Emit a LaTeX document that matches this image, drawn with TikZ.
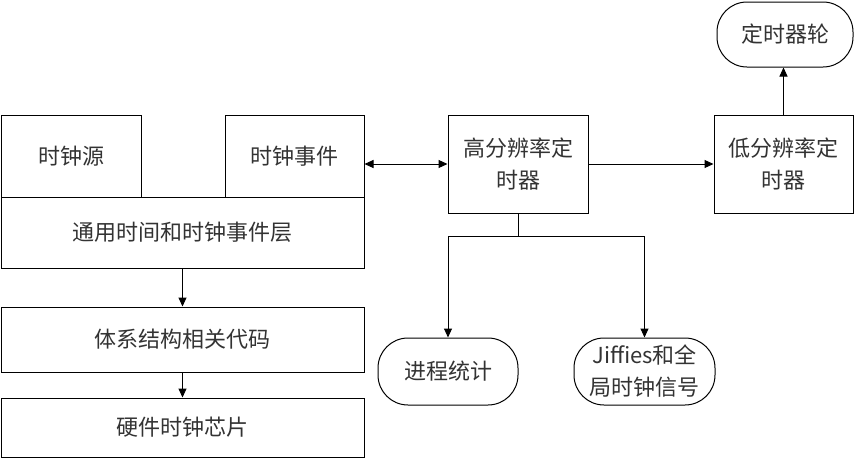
\documentclass[tikz,border=0pt]{standalone}
\usepackage{fontspec}
\setmainfont{Noto Sans CJK SC}
\usepackage{tikz}
\usetikzlibrary{positioning,calc,arrows.meta}

\tikzset{
	box/.style={draw, line width=1pt, inner sep=0pt, align=center, font=\fontsize{22}{32}\selectfont, text=black!80},
	pill/.style={box, rounded corners=30pt},
	arr/.style={line width=1pt, -{Triangle[length=9pt,width=8pt]}},
}

\begin{document}
\begin{tikzpicture}[x=1pt,y=-1pt]
	\useasboundingbox (0,0) rectangle (855,458);

	\node[box, minimum width=140pt, minimum height=82pt] (src) at (71, 156) {时钟源};
	\node[box, minimum width=139pt, minimum height=82pt] (evt) at (294.5, 156) {时钟事件};
	\node[box, minimum width=363pt, minimum height=71pt] (layer) at (182.5, 232.5) {通用时间和时钟事件层};
	\node[box, minimum width=363pt, minimum height=65pt] (arch) at (182.5, 339.5) {体系结构相关代码};
	\node[box, minimum width=363pt, minimum height=59pt] (hw) at (182.5, 427.5) {硬件时钟芯片};

	\node[box, minimum width=140pt, minimum height=98pt] (hres) at (518, 164) {高分辨率定\\时器};
	\node[box, minimum width=139pt, minimum height=98pt] (lres) at (783.5, 164) {低分辨率定\\时器};
	\node[pill, minimum width=136pt, minimum height=65pt] (wheel) at (785, 34.5) {定时器轮};
	\node[pill, minimum width=140pt, minimum height=67pt] (proc) at (448, 371.5) {进程统计};
	\node[pill, minimum width=141pt, minimum height=67pt] (jif) at (644.5, 371.5) {Jiffies和全\\局时钟信号};

	\draw[arr] (layer.south) -- (arch.north);
	\draw[arr] (arch.south) -- (hw.north);
	\draw[arr, {Triangle[length=9pt,width=8pt]}-{Triangle[length=9pt,width=8pt]}] (evt.east |- hres.west) -- (hres.west);
	\draw[arr] (hres.east) -- (lres.west);
	\draw[arr] (lres.north) -- (lres.north |- wheel.south);
	\draw[arr] (hres.south) -- ++(0,23) -| (proc.north);
	\draw[arr] (hres.south) -- ++(0,23) -| (jif.north);
\end{tikzpicture}
\end{document}
